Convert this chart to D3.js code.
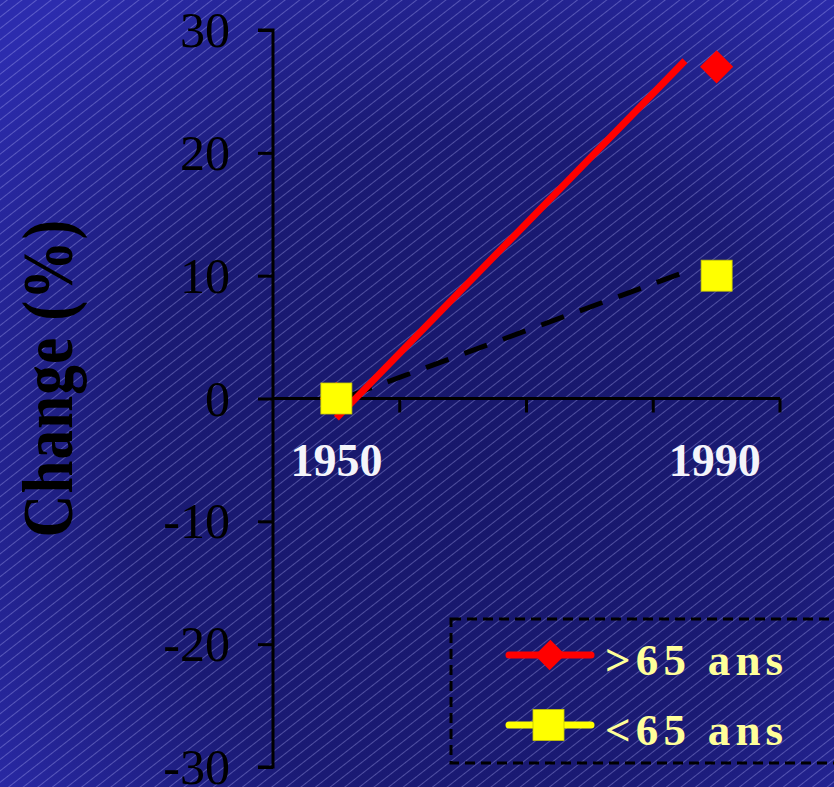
<!DOCTYPE html>
<html>
<head>
<meta charset="utf-8">
<script src="https://cdn.jsdelivr.net/npm/d3@7"></script>
<style>
  html, body { margin: 0; padding: 0; background: #1a1a6e; }
  svg { display: block; }
  text { font-family: "Liberation Serif", "Times New Roman", serif; }
</style>
</head>
<body>
<svg id="chart" width="834" height="787"></svg>
<script>
// Slots along the x axis (only the first and last carry a label)
const categories = ["1950", "", "", "1990"];
const yTicks = [-30, -20, -10, 0, 10, 20, 30];

// Measured change (%) for each age group, at slot 0 (1950) and slot 3 (1990)
const seriesSlots = [0, 3];
const over65 = [0, 27];
const under65 = [0, 10];

// Hand-drawn trend strokes, as [slot, value] end points
const over65Trend = [[0, -1.6], [2.75, 27.5]];
const under65Trend = [[0.1, 0.2], [2.75, 10.3]];

const legendItems = [
  { label: ">65 ans", color: "#ff0000", symbol: "diamond" },
  { label: "<65 ans", color: "#ffff00", symbol: "square" }
];

const W = 834, H = 787;
const plot = { left: 273, right: 780, top: 30, bottom: 767 };

const svg = d3.select("#chart");
const defs = svg.append("defs");

// Background: deep blue with lighter corners
const grad = defs.append("radialGradient")
  .attr("id", "bg").attr("gradientUnits", "userSpaceOnUse")
  .attr("cx", 470).attr("cy", 470).attr("r", 620)
  .attr("fx", 470).attr("fy", 470);
grad.append("stop").attr("offset", "0%").attr("stop-color", "#17176a");
grad.append("stop").attr("offset", "55%").attr("stop-color", "#1a1a74");
grad.append("stop").attr("offset", "100%").attr("stop-color", "#2c2cae");

// Fine diagonal hatching
const pat = defs.append("pattern")
  .attr("id", "hatch").attr("patternUnits", "userSpaceOnUse")
  .attr("width", 9).attr("height", 9)
  .attr("patternTransform", "rotate(-38)");
pat.append("line")
  .attr("x1", 0).attr("x2", 9).attr("y1", 4.5).attr("y2", 4.5)
  .attr("stroke", "rgba(185,185,255,0.34)").attr("stroke-width", 1);

svg.append("rect").attr("width", W).attr("height", H).attr("fill", "url(#bg)");
svg.append("rect").attr("width", W).attr("height", H).attr("fill", "url(#hatch)");

// Scales
const y = d3.scaleLinear().domain([-30, 30]).range([plot.bottom, plot.top]);
const xBand = d3.scaleBand().domain(d3.range(categories.length))
  .range([plot.left, plot.right]).paddingInner(0).paddingOuter(0);
const bw = xBand.bandwidth();
const xPos = d3.scaleLinear().domain([0, categories.length - 1])
  .range([xBand(0) + bw / 2, xBand(categories.length - 1) + bw / 2]);

// Y axis
const yAxis = d3.axisLeft(y).tickValues(yTicks).tickSize(15).tickPadding(28)
  .tickFormat(d => String(d));
const gy = svg.append("g").attr("transform", `translate(${plot.left},0)`).call(yAxis);
gy.select(".domain").attr("stroke", "#000").attr("stroke-width", 3)
  .attr("d", `M-15,${y(30)}H0V${y(-30)}H-15`);
gy.selectAll(".tick line").attr("stroke", "#000").attr("stroke-width", 3);
gy.selectAll(".tick text")
  .attr("fill", "#000").attr("font-size", 50)
  .attr("font-family", '"Liberation Serif", "Times New Roman", serif')
  .attr("dy", "0.33em");

// X axis drawn at zero, ticks at band boundaries
const gx = svg.append("g").attr("transform", `translate(0,${y(0)})`);
gx.append("line").attr("x1", plot.left).attr("x2", plot.right)
  .attr("stroke", "#000").attr("stroke-width", 3);
const boundaries = d3.range(1, categories.length + 1).map(i => xBand(i - 1) + bw);
gx.selectAll("line.xt").data(boundaries).join("line").attr("class", "xt")
  .attr("x1", d => d).attr("x2", d => d).attr("y1", 0).attr("y2", 14)
  .attr("stroke", "#000").attr("stroke-width", 3);
gx.selectAll("text").data(categories).join("text")
  .attr("x", (d, i) => xPos(i) - (i === categories.length - 1 ? 2 : 0)).attr("y", 77)
  .attr("text-anchor", "middle").attr("font-size", 46).attr("font-weight", "bold")
  .attr("fill", "#f4f4fa").text(d => d);

// Y title (condensed bold serif)
svg.append("text")
  .attr("transform", "translate(72,378) rotate(-90) scale(0.82,1)")
  .attr("text-anchor", "middle").attr("font-size", 72).attr("font-weight", "bold")
  .attr("letter-spacing", 1.5)
  .attr("fill", "#000").text("Change (%)");

// Trend strokes
const line = d3.line().x(d => xPos(d[0])).y(d => y(d[1]));
svg.append("path").attr("d", line(under65Trend))
  .attr("fill", "none").attr("stroke", "#000").attr("stroke-width", 5)
  .attr("stroke-dasharray", "24,17");
svg.append("path").attr("d", line(over65Trend))
  .attr("fill", "none").attr("stroke", "#ff0000").attr("stroke-width", 7);

// Markers
const diamond = d3.symbol().type(d3.symbolSquare).size(23.5 * 23.5);
svg.selectAll("path.over").data(over65).join("path").attr("class", "over")
  .attr("d", diamond)
  .attr("transform", (d, i) => `translate(${xPos(seriesSlots[i])},${y(d)}) rotate(45)`)
  .attr("fill", "#ff0000");
svg.selectAll("rect.under").data(under65).join("rect").attr("class", "under")
  .attr("x", (d, i) => xPos(seriesSlots[i]) - 15.5).attr("y", d => y(d) - 15.5)
  .attr("width", 31).attr("height", 31)
  .attr("fill", "#ffff00").attr("stroke", "#c8c800").attr("stroke-width", 0.8);

// Legend
const lg = svg.append("g");
lg.append("rect").attr("x", 451).attr("y", 619).attr("width", 420).attr("height", 144)
  .attr("fill", "none").attr("stroke", "#000").attr("stroke-width", 3)
  .attr("stroke-dasharray", "10,6");
const rows = lg.selectAll("g.row").data(legendItems).join("g").attr("class", "row")
  .attr("transform", (d, i) => `translate(0,${655 + i * 70})`);
rows.append("line").attr("x1", 509).attr("x2", 591).attr("y1", 0).attr("y2", 0)
  .attr("stroke", d => d.color).attr("stroke-width", 7).attr("stroke-linecap", "round");
rows.filter(d => d.symbol === "diamond").append("path")
  .attr("d", d3.symbol().type(d3.symbolSquare).size(21 * 21))
  .attr("transform", "translate(550,0) rotate(45) scale(1,1.05)")
  .attr("fill", d => d.color);
rows.filter(d => d.symbol === "square").append("rect")
  .attr("x", 533).attr("y", -15.5).attr("width", 31).attr("height", 31)
  .attr("fill", d => d.color).attr("stroke", "#c8c800").attr("stroke-width", 0.8);
rows.append("text").attr("x", 605).attr("y", 20)
  .attr("font-size", 45).attr("font-weight", "bold").attr("letter-spacing", 5.2)
  .attr("fill", "#ffff99").text(d => d.label);
</script>
</body>
</html>
